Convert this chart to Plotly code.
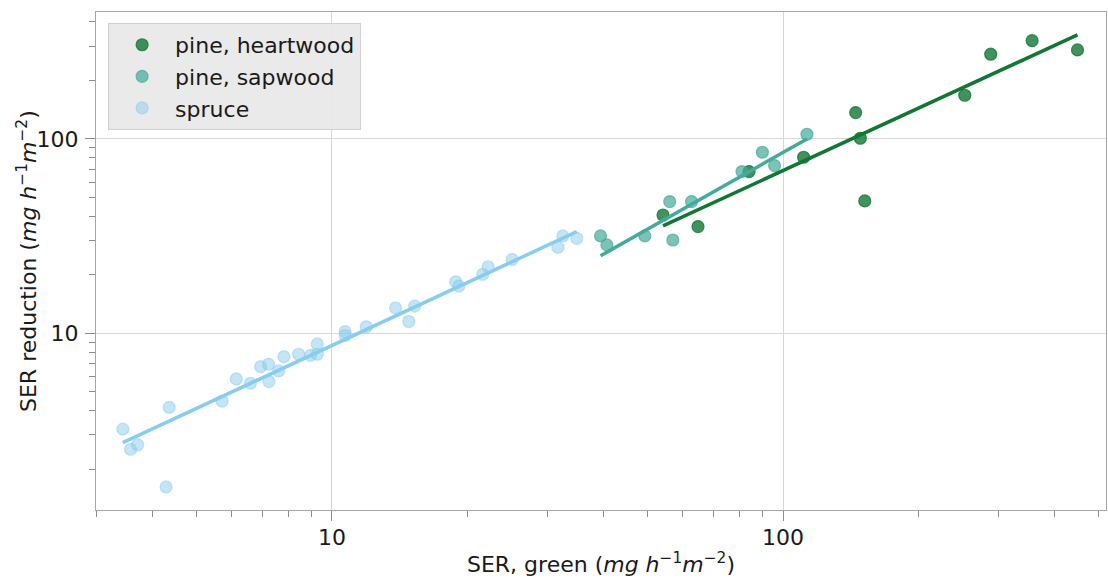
import numpy as np
import plotly.graph_objects as go

# ---- data ----
heart_x = [54.2, 64.8, 84.1, 111.1, 144.9, 148.4, 151.8, 252.9, 288.7, 356.6, 449.6]
heart_y = [40.6, 35.4, 67.9, 80.5, 136.6, 100.8, 48.0, 167.8, 272.9, 320.5, 287.1]

sap_x = [39.4, 40.7, 49.4, 56.1, 57.0, 62.7, 81.1, 90.0, 95.8, 113.0]
sap_y = [31.7, 28.5, 31.7, 47.6, 30.2, 47.6, 67.9, 85.4, 72.9, 105.7]

spruce_x = [3.44, 3.58, 3.71, 4.29, 4.36, 5.71, 6.14, 6.60, 6.95, 7.24, 7.25, 7.62,
            7.83, 8.44, 8.97, 9.28, 9.28, 10.7, 10.7, 11.92, 13.84, 14.81, 15.26,
            18.81, 19.12, 21.6, 22.2, 25.1, 31.7, 32.5, 34.9]
spruce_y = [3.21, 2.53, 2.67, 1.62, 4.16, 4.48, 5.82, 5.53, 6.73, 6.93, 5.64, 6.40,
            7.58, 7.80, 7.70, 7.80, 8.81, 10.2, 9.74, 10.8, 13.5, 11.5, 13.8,
            18.4, 17.5, 20.1, 22.0, 24.0, 27.7, 31.7, 30.8]

# power-law fit lines, log10(y) = intercept + slope * log10(x)
fit_slope = [1.07, 1.315, 1.079]
fit_intercept = [-0.303, -0.6996, -0.142]

series_names = ["pine, heartwood", "pine, sapwood", "spruce"]
series_x = [heart_x, sap_x, spruce_x]
series_y = [heart_y, sap_y, spruce_y]
series_rgb = [(17, 119, 51), (68, 170, 153), (136, 204, 238)]
series_alpha = [0.8, 0.7, 0.5]

x_major = [10, 100]
y_major = [10, 100]
x_minor = [3, 4, 5, 6, 7, 8, 9, 20, 30, 40, 50, 60, 70, 80, 90, 200, 300, 400, 500]
y_minor = [2, 3, 4, 5, 6, 7, 8, 9, 20, 30, 40, 50, 60, 70, 80, 90, 200, 300, 400]

x_title = "SER, green (<i>mg h</i><sup>−1</sup><i>m</i><sup>−2</sup>)"
y_title = "SER reduction (<i>mg h</i><sup>−1</sup><i>m</i><sup>−2</sup>)"

FONT = "DejaVu Sans"
fig = go.Figure()

for name, xs, ys, (r, g, b), a in zip(series_names, series_x, series_y, series_rgb, series_alpha):
    fig.add_trace(go.Scatter(
        x=xs, y=ys, mode="markers", name=name,
        marker=dict(size=12, color=f"rgba({r},{g},{b},{a})",
                    line=dict(width=1.2, color=f"rgba({r},{g},{b},{a})")),
    ))

for xs, k, c, (r, g, b) in zip(series_x, fit_slope, fit_intercept, series_rgb):
    xe = np.array([min(xs), max(xs)])
    fig.add_trace(go.Scatter(
        x=xe, y=10 ** (c + k * np.log10(xe)), mode="lines", showlegend=False,
        line=dict(width=3.5, color=f"rgb({r},{g},{b})"), hoverinfo="skip",
    ))

axis_common = dict(
    type="log", showline=True, mirror=True, linecolor="#a6a6a6", linewidth=1.3,
    showgrid=True, gridcolor="#d6d6d6", gridwidth=1.2, zeroline=False,
    ticks="outside", ticklen=10, tickwidth=1.2, tickcolor="#8c8c8c",
    tickfont=dict(family=FONT, size=22, color="#1a1a1a"),
)
minor_common = dict(tickmode="array", ticks="outside", ticklen=6,
                    tickwidth=1, tickcolor="#8c8c8c", showgrid=False)

fig.update_xaxes(
    **axis_common,
    range=[np.log10(3), np.log10(520)],
    tickmode="array", tickvals=x_major, ticktext=[str(v) for v in x_major],
    ticklabelstandoff=-3,
    minor=dict(tickvals=x_minor, **minor_common),
    title=dict(text=x_title, font=dict(family=FONT, size=22, color="#1a1a1a"), standoff=8),
)
fig.update_yaxes(
    **axis_common,
    range=[np.log10(1.232), np.log10(450)],
    tickmode="array", tickvals=y_major, ticktext=[str(v) for v in y_major],
    ticklabelstandoff=2,
    minor=dict(tickvals=y_minor, **minor_common),
)

fig.add_annotation(
    text=y_title, xref="paper", yref="paper", x=-0.0683, y=0.5,
    xanchor="center", yanchor="middle", textangle=-90, showarrow=False,
    font=dict(family=FONT, size=22, color="#1a1a1a"),
)

fig.update_layout(
    width=1108, height=581,
    margin=dict(l=96, r=2, t=12, b=71),
    paper_bgcolor="white", plot_bgcolor="white",
    font=dict(family=FONT, size=22, color="#1a1a1a"),
    legend=dict(x=0.012, y=0.978, xanchor="left", yanchor="top",
                bgcolor="rgba(232,232,232,0.9)", bordercolor="#d0d0d0", borderwidth=1,
                font=dict(family=FONT, size=22, color="#1a1a1a"),
                itemwidth=56, tracegroupgap=0),
    showlegend=True,
)

fig.write_html("out.html")
